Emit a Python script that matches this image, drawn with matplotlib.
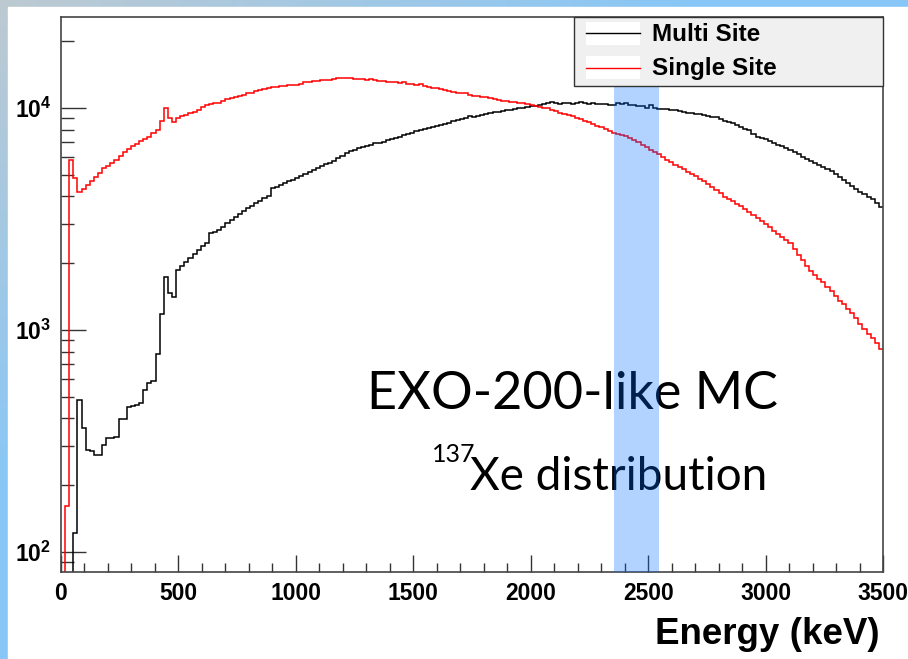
import numpy as np
import matplotlib
matplotlib.use("Agg")
import matplotlib.pyplot as plt
from matplotlib.patches import Rectangle
from matplotlib.ticker import MultipleLocator, LogLocator, FuncFormatter, NullFormatter

plt.rcParams["font.family"] = ["Liberation Sans", "DejaVu Sans"]
plt.rcParams["mathtext.fontset"] = "custom"
plt.rcParams["mathtext.rm"] = "Liberation Sans"
plt.rcParams["mathtext.bf"] = "Liberation Sans:bold"

# histogram: 200 bins of 17.5 keV from 0 to 3500 keV
e_min, e_max, n_bins = 0.0, 3500.0, 200

single_site = [
    0, 162, 5840, 4840, 4180, 4310, 4490, 4680, 4880, 5090,
    5360, 5470, 5650, 5830, 6070, 6330, 6530, 6740, 6880, 7100,
    7250, 7400, 7710, 7960, 8740, 10000, 9010, 8650, 9010, 9200,
    9300, 9490, 9590, 9800, 10100, 10310, 10420, 10530, 10530, 10750,
    10970, 11090, 11200, 11320, 11440, 11680, 11680, 11920, 12050, 12180,
    12310, 12440, 12440, 12560, 12560, 12700, 12700, 12700, 12830, 13100,
    13100, 13230, 13230, 13370, 13370, 13370, 13510, 13650, 13650, 13650,
    13650, 13510, 13510, 13510, 13370, 13510, 13370, 13230, 13230, 13100,
    13100, 13100, 12970, 13100, 12830, 12830, 12700, 12830, 12560, 12440,
    12310, 12310, 12180, 12050, 11920, 11800, 11680, 11680, 11680, 11440,
    11320, 11320, 11200, 11200, 11090, 10970, 10860, 10750, 10750, 10640,
    10640, 10530, 10530, 10420, 10310, 10210, 10100, 10000, 10000, 9800,
    9690, 9490, 9400, 9300, 9200, 9010, 8920, 8740, 8650, 8470,
    8290, 8210, 8040, 7870, 7710, 7630, 7550, 7480, 7320, 7170,
    7020, 6810, 6670, 6460, 6330, 6200, 6010, 5830, 5710, 5530,
    5420, 5300, 5140, 5040, 4930, 4780, 4680, 4540, 4400, 4270,
    4140, 3960, 3890, 3810, 3700, 3620, 3510, 3400, 3300, 3200,
    3100, 3000, 2910, 2790, 2700, 2620, 2545, 2460, 2320, 2180,
    2070, 1940, 1850, 1770, 1700, 1650, 1560, 1500, 1425, 1350,
    1310, 1245, 1190, 1130, 1060, 1010, 958, 920, 870, 820,
]

multi_site = [
    0, 0, 0, 122, 486, 362, 288, 285, 273, 273,
    304, 325, 325, 330, 397, 397, 449, 454, 459, 469,
    537, 577, 590, 779, 1180, 1733, 1468, 1408, 1862, 1940,
    2030, 2110, 2200, 2293, 2390, 2460, 2740, 2770, 2820, 2910,
    3030, 3130, 3230, 3330, 3440, 3550, 3620, 3730, 3810, 3930,
    4010, 4350, 4400, 4490, 4590, 4680, 4730, 4830, 4930, 5040,
    5140, 5250, 5360, 5470, 5590, 5650, 5770, 5950, 6070, 6260,
    6400, 6460, 6600, 6670, 6740, 6810, 6950, 6950, 7020, 7170,
    7250, 7320, 7400, 7550, 7630, 7710, 7870, 7960, 8040, 8120,
    8210, 8290, 8380, 8470, 8560, 8740, 8830, 8920, 9010, 9200,
    9100, 9200, 9300, 9400, 9490, 9590, 9590, 9690, 9800, 9800,
    9900, 10000, 10000, 10100, 10210, 10210, 10310, 10420, 10530, 10640,
    10530, 10420, 10530, 10530, 10420, 10530, 10640, 10530, 10420, 10530,
    10420, 10420, 10420, 10310, 10310, 10530, 10420, 10530, 10310, 10310,
    10210, 10210, 10000, 10310, 10000, 9900, 9900, 9900, 9800, 9800,
    9690, 9590, 9490, 9490, 9400, 9400, 9300, 9200, 9100, 9100,
    8920, 8740, 8650, 8560, 8380, 8210, 8040, 7960, 7630, 7400,
    7320, 7250, 7100, 6950, 6810, 6740, 6600, 6460, 6330, 6200,
    6010, 5890, 5770, 5650, 5530, 5420, 5300, 5200, 5040, 4880,
    4730, 4590, 4450, 4310, 4180, 4090, 3960, 3890, 3730, 3580,
]

roi = (2356, 2545)  # highlighted energy window (keV)
legend_labels = ["Multi Site", "Single Site"]

edges = np.linspace(e_min, e_max, n_bins + 1)
ms = np.array(multi_site, dtype=float)
ss = np.array(single_site, dtype=float)
ms[ms <= 0] = 1.0  # empty bins drop below the axis
ss[ss <= 0] = 1.0

W, H = 908, 659
fig = plt.figure(figsize=(W / 100, H / 100), dpi=100)

# slide-like background
bg = fig.add_axes([0, 0, 1, 1], zorder=-10)
bg.axis("off")
yy, xx = np.mgrid[0:H, 0:W]
t = np.clip(np.maximum(xx / 700, yy / 500), 0, 1)[..., None]
c0 = np.array([0.74, 0.79, 0.82])
c1 = np.array([0.53, 0.78, 0.97])
bg.imshow(c0 + (c1 - c0) * t, extent=(0, W, H, 0), aspect="auto")
bg.add_patch(Rectangle((8, 7), W - 8, H - 7, color="white"))
bg.set_xlim(0, W)
bg.set_ylim(H, 0)

ax = fig.add_axes([61 / W, (H - 572) / H, 822 / W, 555 / H])
ax.set_facecolor("white")

ax.stairs(ms, edges, baseline=None, color="black", lw=1.1, zorder=2)
ax.stairs(ss, edges, baseline=None, color="#ff0000", lw=1.1, zorder=2)

ax.set_yscale("log")
ax.set_xlim(e_min, e_max)
ax.set_ylim(81.3, 25700)

ax.xaxis.set_major_locator(MultipleLocator(500))
ax.xaxis.set_minor_locator(MultipleLocator(100))
ax.yaxis.set_major_locator(LogLocator(base=10, numticks=10))
ax.yaxis.set_minor_locator(LogLocator(base=10, subs=np.arange(2, 10), numticks=20))
ax.yaxis.set_major_formatter(FuncFormatter(lambda v, p: r"$\mathbf{10^{%d}}$" % round(np.log10(v))))
ax.yaxis.set_minor_formatter(NullFormatter())

ax.tick_params(axis="x", which="major", direction="in", length=12, width=1, color="#333333",
               labelsize=16.5, pad=7)
ax.tick_params(axis="x", which="minor", direction="in", length=6.5, width=1, color="#333333")
ax.tick_params(axis="y", which="major", direction="in", length=18, width=1, color="#333333",
               labelsize=16.5, pad=7)
ax.tick_params(axis="y", which="minor", direction="in", length=9.4, width=1, color="#333333")
for lab in ax.get_xticklabels():
    lab.set_fontweight("bold")

for sp in ax.spines.values():
    sp.set_color("#444444")
    sp.set_linewidth(1.2)

# annotation text (under the highlight band)
ax.text(572 / W, 1 - 409 / H, "EXO-200-like MC", transform=fig.transFigure,
        ha="center", va="baseline", fontsize=37.5, family="Lato", zorder=3)
ax.text(432 / W, 1 - 462 / H, "137", transform=fig.transFigure,
        ha="left", va="baseline", fontsize=18, family="Lato", zorder=3)
ax.text(470 / W, 1 - 490 / H, "Xe distribution", transform=fig.transFigure,
        ha="left", va="baseline", fontsize=33, family="Lato", zorder=3)

ax.axvspan(roi[0], roi[1], color="#006cff", alpha=0.3, lw=0, zorder=4)

# legend box
ax.add_patch(Rectangle((0.624, 0.8757), 0.376, 0.1243, transform=ax.transAxes,
                       facecolor="#f0f0f0", edgecolor="#333333", lw=1, zorder=6, clip_on=False))
for i, (lab, col) in enumerate(zip(legend_labels, ["black", "#ff0000"])):
    y0 = [0.9495, 0.888][i]
    yl = [0.9712, 0.908][i]
    ax.add_patch(Rectangle((0.6387, y0), 0.0657, 0.0415, transform=ax.transAxes,
                           facecolor="white", edgecolor="none", zorder=7))
    ax.plot([0.6387, 0.7044], [yl, yl], transform=ax.transAxes, color=col, lw=1, zorder=8)
    ax.text(0.719, [0.9676, 0.908][i], lab, transform=ax.transAxes, ha="left", va="center",
            fontsize=17.5, fontweight="bold", zorder=8)

fig.text(880 / W, 1 - 635 / H, "Energy (keV)", ha="right", va="center",
         fontsize=26.5, fontweight="bold")

fig.savefig("out.png", dpi=100)
